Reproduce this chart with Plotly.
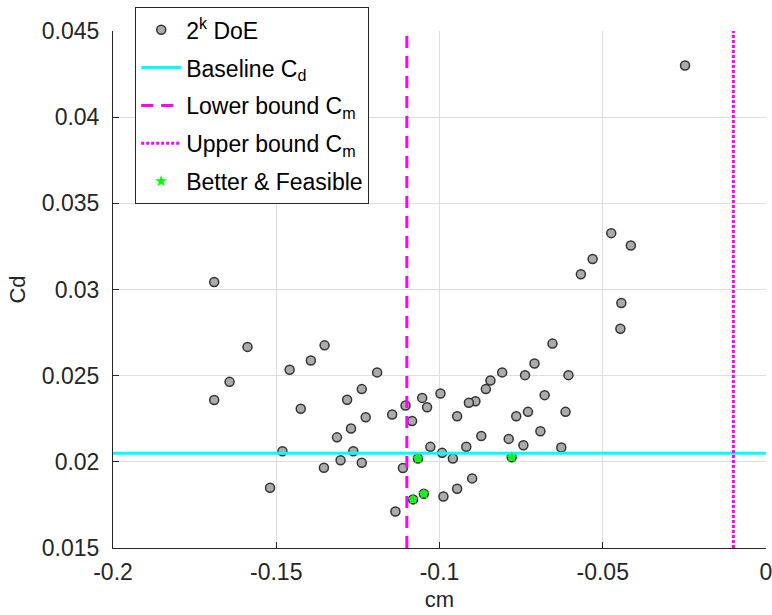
import plotly.graph_objects as go

# ---- data ----
doe_cm = [-0.0248, -0.0474, -0.0414, -0.0531, -0.0567, -0.1690, -0.0443, -0.0446, -0.0654, -0.1588,
          -0.1352, -0.1394, -0.0709, -0.1459, -0.1191, -0.0808, -0.0738, -0.0605, -0.1643, -0.0844,
          -0.0858, -0.1238, -0.0678, -0.0997, -0.1053, -0.1283, -0.1690, -0.1425, -0.1104, -0.1038,
          -0.0890, -0.0910, -0.0614, -0.0729, -0.0765, -0.0946, -0.1145, -0.1226, -0.1084, -0.1271,
          -0.1314, -0.1481, -0.1264, -0.1028, -0.0992, -0.0959, -0.0918, -0.0872, -0.0788, -0.0743,
          -0.0691, -0.0627, -0.1303, -0.1238, -0.1354, -0.1112, -0.1519, -0.0988, -0.0946, -0.0900,
          -0.1135, -0.1066, -0.0779, -0.1081, -0.1048]
doe_cd = [0.0430, 0.03327, 0.03255, 0.03177, 0.03088, 0.03044, 0.02922, 0.02772, 0.02686, 0.02667,
          0.02676, 0.02588, 0.02571, 0.02534, 0.02519, 0.02519, 0.02503, 0.02503, 0.02464, 0.02472,
          0.02422, 0.02422, 0.02387, 0.02397, 0.02371, 0.02360, 0.02359, 0.02308, 0.02327, 0.02317,
          0.02352, 0.02343, 0.02290, 0.02290, 0.02265, 0.02265, 0.02275, 0.02259, 0.02237, 0.02193,
          0.02142, 0.02061, 0.02061, 0.02087, 0.02052, 0.02019, 0.02088, 0.02150, 0.02133, 0.02096,
          0.02177, 0.02083, 0.02009, 0.01995, 0.01966, 0.01964, 0.01850, 0.01799, 0.01844, 0.01904,
          0.01712, 0.02019, 0.02026, 0.01782, 0.01815]

good_cm = [-0.1066, -0.0779, -0.1081, -0.1048]
good_cd = [0.02019, 0.02026, 0.01782, 0.01815]

baseline_cd = 0.0205
cm_lower = -0.11
cm_upper = -0.01

x_limits = [-0.2, 0.0]
y_limits = [0.015, 0.045]
x_ticks = [-0.2, -0.15, -0.1, -0.05, 0.0]
x_ticktext = ["-0.2", "-0.15", "-0.1", "-0.05", "0"]
y_ticks = [0.015, 0.02, 0.025, 0.03, 0.035, 0.04, 0.045]
y_ticktext = ["0.015", "0.02", "0.025", "0.03", "0.035", "0.04", "0.045"]

FONT = "Liberation Sans, Arial, Helvetica, sans-serif"
AX = "#262626"

fig = go.Figure()
fig.add_trace(go.Scatter(
    x=doe_cm, y=doe_cd, mode="markers", name="2<sup>k</sup> DoE", legendgroup="a",
    marker=dict(symbol="circle", size=9, color="#ababab", line=dict(color="#333333", width=1.5))))
fig.add_trace(go.Scatter(
    x=x_limits, y=[baseline_cd, baseline_cd], mode="lines", name="Baseline C<sub>d</sub>",
    legendgroup="b", line=dict(color="#00ffff", width=3)))
fig.add_trace(go.Scatter(
    x=[cm_lower, cm_lower], y=y_limits, mode="lines", name="Lower bound C<sub>m</sub>",
    legendgroup="c", line=dict(color="#ff00ff", width=3, dash="12px,8px")))
fig.add_trace(go.Scatter(
    x=[cm_upper, cm_upper], y=y_limits, mode="lines", name="Upper bound C<sub>m</sub>",
    legendgroup="d", line=dict(color="#ff00ff", width=3, dash="3px,2px")))
fig.add_trace(go.Scatter(
    x=good_cm, y=good_cd, mode="markers", name="Better & Feasible", legendgroup="e",
    marker=dict(symbol="star", size=9, color="#00ff00", line=dict(width=0))))

axis_common = dict(
    showline=True, linecolor=AX, linewidth=1, mirror=False,
    ticks="inside", ticklen=6, tickcolor=AX, tickwidth=1,
    showgrid=True, gridcolor="#dedede", gridwidth=1, zeroline=False,
    tickfont=dict(family=FONT, size=23, color=AX),
    ticklabeloverflow="allow",
)

fig.update_xaxes(range=x_limits, tickvals=x_ticks, ticktext=x_ticktext,
                 title=dict(text="cm", font=dict(family=FONT, size=22, color=AX), standoff=8),
                 ticklabelstandoff=3, **axis_common)
fig.update_yaxes(range=y_limits, tickvals=y_ticks, ticktext=y_ticktext,
                 title=dict(text="Cd", font=dict(family=FONT, size=22, color=AX), standoff=10),
                 ticklabelstandoff=8, **axis_common)

fig.update_layout(
    width=772, height=615,
    margin=dict(l=113, r=6, t=31, b=67, autoexpand=False),
    paper_bgcolor="white", plot_bgcolor="white",
    showlegend=True,
    legend=dict(x=0.034, y=1.046, xanchor="left", yanchor="top",
                bgcolor="white", bordercolor=AX, borderwidth=1,
                font=dict(family=FONT, size=23, color="black"),
                traceorder="grouped", tracegroupgap=5, itemwidth=40),
)

fig.write_html("out.html")
